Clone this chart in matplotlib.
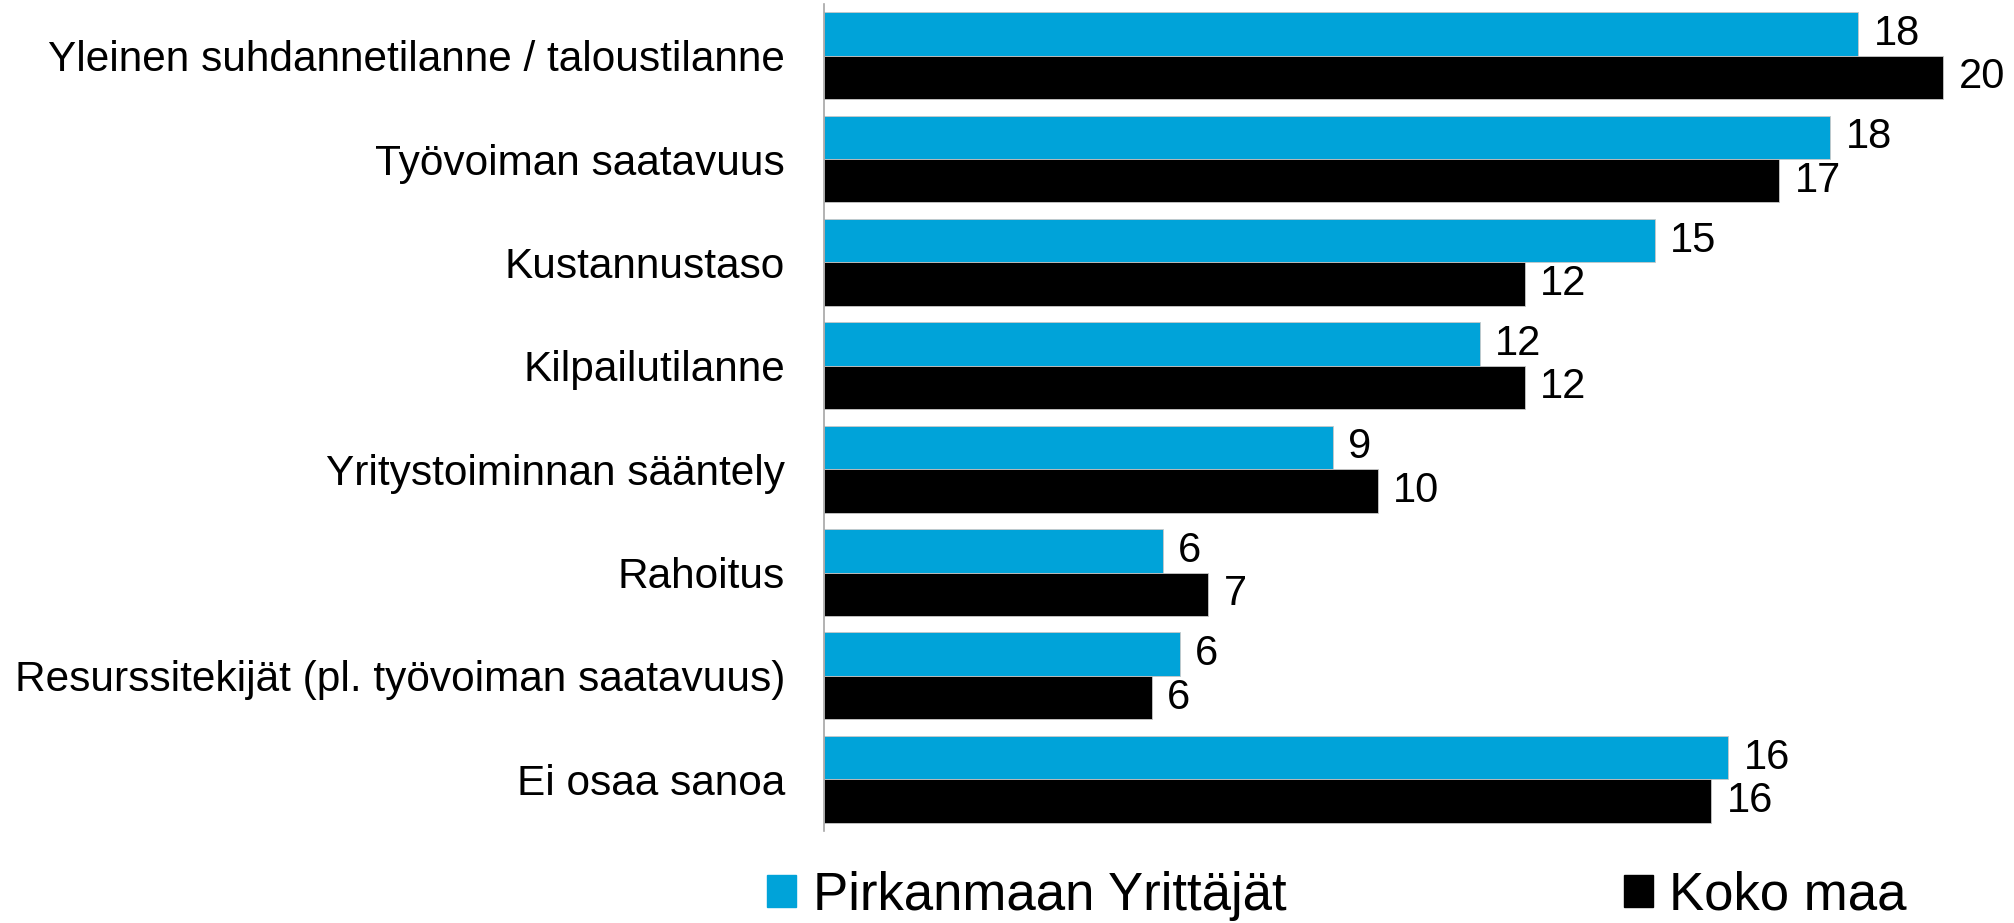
import matplotlib.pyplot as plt
from matplotlib.patches import Patch
import numpy as np

plt.rcParams['font.family'] = ['Liberation Sans', 'DejaVu Sans']

categories = [
    "Yleinen suhdannetilanne / taloustilanne",
    "Työvoiman saatavuus",
    "Kustannustaso",
    "Kilpailutilanne",
    "Yritystoiminnan sääntely",
    "Rahoitus",
    "Resurssitekijät (pl. työvoiman saatavuus)",
    "Ei osaa sanoa",
]
pirkanmaa = [18.3, 17.8, 14.7, 11.6, 9.0, 6.0, 6.3, 16.0]
koko_maa = [19.8, 16.9, 12.4, 12.4, 9.8, 6.8, 5.8, 15.7]

blue = "#00A3D9"

fig = plt.figure(figsize=(20.14, 9.23), dpi=100)
ax = fig.add_axes([0.4091, 0.0997, 0.581, 0.896])

y = np.arange(len(categories))
h = 0.42
b1 = ax.barh(y - h / 2, pirkanmaa, height=h, color=blue, edgecolor="#c8c8c8", linewidth=0.6)
b2 = ax.barh(y + h / 2, koko_maa, height=h, color="black", edgecolor="#c8c8c8", linewidth=0.6)

# labels show rounded values
ax.bar_label(b1, labels=[f"{v:.0f}" for v in pirkanmaa], padding=11, fontsize=30)
ax.bar_label(b2, labels=[f"{v:.0f}" for v in koko_maa], padding=11, fontsize=30)

ax.set_xlim(0, 20.7)
ax.set_ylim(len(categories) - 0.5, -0.5)
ax.set_yticks(y)
ax.set_yticklabels(categories, fontsize=30.5)
ax.tick_params(axis="y", length=0, pad=28)
ax.set_xticks([])

for s in ["top", "right", "bottom"]:
    ax.spines[s].set_visible(False)
ax.spines["left"].set_color("#a6a6a6")
ax.spines["left"].set_linewidth(1.2)

handles = [Patch(color=blue, label="Pirkanmaan Yrittäjät"),
           Patch(color="black", label="Koko maa")]
fig.legend(handles=handles, loc="center", bbox_to_anchor=(0.6639, 0.0293),
           ncol=2, frameon=False, fontsize=38, handlelength=0.55, handleheight=0.55,
           handletextpad=0.31, columnspacing=6.4, borderpad=0, borderaxespad=0)

fig.savefig("out.png", dpi=100)
